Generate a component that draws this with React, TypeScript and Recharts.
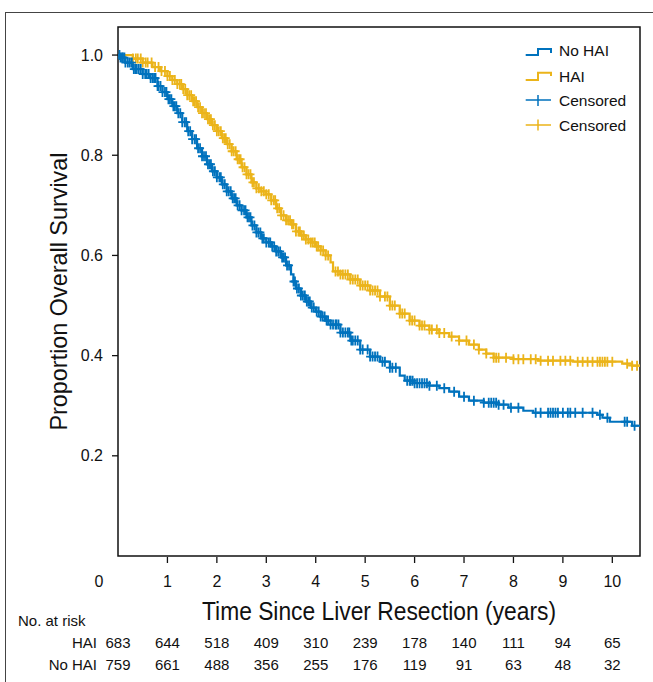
import React from "react"
import { ComposedChart, Line, Scatter, XAxis, YAxis, ReferenceArea } from "recharts"

const BLUE = "#0072BD"
const YELLOW = "#EBB41A"
const SANS = "'Liberation Sans', Arial, Helvetica, sans-serif"
const NARROW = "'Liberation Sans Narrow', 'Liberation Sans', Arial, sans-serif"

const TIME_TICKS = [0, 1, 2, 3, 4, 5, 6, 7, 8, 9, 10]
const SURV_TICKS = [0.2, 0.4, 0.6, 0.8, 1.0]
const AT_RISK_HAI = [683, 644, 518, 409, 310, 239, 178, 140, 111, 94, 65]
const AT_RISK_NO_HAI = [759, 661, 488, 356, 255, 176, 119, 91, 63, 48, 32]

// step points of the KM curves (years, proportion surviving)
const HAI_TIME = [0, 0.3, 0.5, 0.7, 0.85, 1.0, 1.1, 1.2, 1.3, 1.4, 1.5, 1.6, 1.7, 1.8, 1.9, 2.0, 2.1, 2.2, 2.3, 2.4, 2.5, 2.6, 2.7, 2.8, 2.9, 3.0, 3.1, 3.2, 3.3, 3.4, 3.5, 3.6, 3.7, 3.8, 3.9, 4.0, 4.1, 4.2, 4.3, 4.35, 4.5, 4.7, 4.9, 5.1, 5.3, 5.5, 5.7, 5.9, 6.1, 6.3, 6.5, 6.7, 6.9, 7.1, 7.3, 7.45, 7.6, 8.0, 8.5, 9.2, 10.2, 10.4, 10.56]
const HAI_SURV = [1.0, 0.993, 0.985, 0.976, 0.968, 0.958, 0.95, 0.942, 0.932, 0.92, 0.908, 0.896, 0.884, 0.872, 0.86, 0.848, 0.834, 0.822, 0.808, 0.792, 0.776, 0.762, 0.746, 0.734, 0.728, 0.722, 0.71, 0.694, 0.68, 0.67, 0.662, 0.648, 0.64, 0.632, 0.626, 0.618, 0.61, 0.6, 0.586, 0.568, 0.562, 0.552, 0.54, 0.53, 0.518, 0.5, 0.484, 0.47, 0.46, 0.452, 0.445, 0.438, 0.43, 0.422, 0.412, 0.404, 0.396, 0.393, 0.39, 0.388, 0.384, 0.38, 0.38]

const NO_HAI_TIME = [0, 0.05, 0.15, 0.3, 0.5, 0.65, 0.8, 0.9, 1.0, 1.1, 1.2, 1.3, 1.4, 1.5, 1.6, 1.7, 1.8, 1.9, 2.0, 2.1, 2.2, 2.3, 2.4, 2.5, 2.6, 2.7, 2.8, 2.9, 3.0, 3.1, 3.2, 3.3, 3.4, 3.5, 3.55, 3.6, 3.7, 3.8, 3.9, 4.0, 4.1, 4.2, 4.3, 4.5, 4.7, 4.9, 5.1, 5.3, 5.5, 5.7, 5.8, 6.0, 6.3, 6.5, 6.7, 6.9, 7.1, 7.4, 7.7, 7.9, 8.2, 8.4, 9.7, 9.8, 9.95, 10.4, 10.56]
const NO_HAI_SURV = [1.0, 0.995, 0.985, 0.972, 0.962, 0.954, 0.938, 0.926, 0.912, 0.898, 0.884, 0.866, 0.848, 0.832, 0.814, 0.798, 0.782, 0.768, 0.756, 0.742, 0.728, 0.714, 0.7, 0.69, 0.676, 0.66, 0.646, 0.634, 0.626, 0.618, 0.608, 0.596, 0.58, 0.562, 0.548, 0.534, 0.52, 0.508, 0.496, 0.488, 0.478, 0.47, 0.462, 0.446, 0.43, 0.412, 0.398, 0.388, 0.376, 0.36, 0.35, 0.345, 0.34, 0.335, 0.328, 0.318, 0.31, 0.306, 0.302, 0.296, 0.29, 0.286, 0.282, 0.276, 0.268, 0.26, 0.26]

// censoring times (years)
const HAI_CENSOR = [0.3, 0.36, 0.4, 0.46, 0.5, 0.56, 0.6, 0.68, 0.75, 0.82, 0.88, 0.95, 1.0, 1.05, 1.1, 1.15, 1.2, 1.25, 1.28, 1.32, 1.36, 1.4, 1.44, 1.48, 1.52, 1.55, 1.58, 1.62, 1.66, 1.7, 1.74, 1.78, 1.82, 1.85, 1.88, 1.92, 1.96, 2.0, 2.04, 2.08, 2.12, 2.15, 2.18, 2.22, 2.26, 2.3, 2.34, 2.38, 2.42, 2.45, 2.48, 2.52, 2.56, 2.6, 2.64, 2.68, 2.72, 2.75, 2.8, 2.85, 2.9, 2.95, 3.0, 3.05, 3.1, 3.15, 3.18, 3.22, 3.26, 3.3, 3.35, 3.4, 3.44, 3.48, 3.52, 3.55, 3.6, 3.65, 3.68, 3.72, 3.76, 3.8, 3.85, 3.9, 3.94, 3.98, 4.02, 4.05, 4.1, 4.15, 4.2, 4.25, 4.4, 4.45, 4.5, 4.55, 4.6, 4.65, 4.7, 4.75, 4.8, 4.85, 4.9, 4.95, 5.0, 5.05, 5.1, 5.15, 5.2, 5.25, 5.3, 5.4, 5.45, 5.5, 5.55, 5.6, 5.7, 5.75, 5.8, 5.9, 5.95, 6.0, 6.1, 6.15, 6.2, 6.3, 6.35, 6.45, 6.5, 6.6, 6.75, 6.9, 7.05, 7.2, 7.3, 7.45, 7.6, 7.65, 7.7, 7.85, 8.0, 8.1, 8.2, 8.35, 8.45, 8.55, 8.7, 8.8, 8.95, 9.05, 9.15, 9.3, 9.4, 9.5, 9.6, 9.7, 9.75, 9.8, 9.85, 9.9, 10.0, 10.3, 10.4, 10.5]
const NO_HAI_CENSOR = [0.03, 0.05, 0.08, 0.1, 0.13, 0.15, 0.2, 0.24, 0.28, 0.32, 0.35, 0.38, 0.42, 0.46, 0.5, 0.55, 0.58, 0.62, 0.66, 0.7, 0.73, 0.76, 0.8, 0.82, 0.86, 0.9, 0.95, 0.98, 1.02, 1.05, 1.08, 1.12, 1.15, 1.18, 1.22, 1.26, 1.3, 1.35, 1.38, 1.42, 1.46, 1.5, 1.55, 1.58, 1.62, 1.66, 1.7, 1.74, 1.78, 1.82, 1.85, 1.88, 1.92, 1.96, 2.0, 2.05, 2.08, 2.12, 2.16, 2.2, 2.24, 2.28, 2.32, 2.35, 2.38, 2.42, 2.46, 2.5, 2.55, 2.58, 2.62, 2.65, 2.68, 2.72, 2.76, 2.8, 2.84, 2.88, 2.92, 2.95, 3.0, 3.05, 3.08, 3.12, 3.16, 3.2, 3.24, 3.28, 3.32, 3.35, 3.38, 3.42, 3.46, 3.55, 3.58, 3.62, 3.66, 3.7, 3.74, 3.78, 3.82, 3.85, 3.88, 3.92, 3.96, 4.02, 4.06, 4.1, 4.14, 4.18, 4.22, 4.25, 4.3, 4.35, 4.4, 4.42, 4.46, 4.5, 4.55, 4.6, 4.65, 4.68, 4.72, 4.75, 4.8, 4.85, 4.9, 4.95, 5.05, 5.1, 5.15, 5.2, 5.25, 5.35, 5.4, 5.5, 5.55, 5.62, 5.85, 5.9, 5.92, 5.96, 6.0, 6.05, 6.1, 6.15, 6.2, 6.25, 6.3, 6.45, 6.6, 6.8, 7.0, 7.2, 7.4, 7.5, 7.55, 7.6, 7.65, 7.7, 7.8, 7.95, 8.1, 8.45, 8.55, 8.7, 8.75, 8.8, 8.85, 8.9, 9.0, 9.1, 9.15, 9.25, 9.4, 9.6, 9.75, 9.9, 10.25, 10.3, 10.45]

const X_MAX = 10.56
const Y_MAX = 1.056

function curve(times: number[], surv: number[]) {
  return times.map((t, i) => ({ t, s: surv[i] }))
}

// value of the step curve at time t
function stepAt(times: number[], surv: number[], t: number) {
  let s = surv[0]
  for (let i = 0; i < times.length; i++) {
    if (times[i] <= t) s = surv[i]
    else break
  }
  return s
}

function censorMarks(ts: number[], times: number[], surv: number[]) {
  return ts.map(t => ({ t, s: stepAt(times, surv, t) }))
}

const haiCurve = curve(HAI_TIME, HAI_SURV)
const noHaiCurve = curve(NO_HAI_TIME, NO_HAI_SURV)
const haiCensored = censorMarks(HAI_CENSOR, HAI_TIME, HAI_SURV)
const noHaiCensored = censorMarks(NO_HAI_CENSOR, NO_HAI_TIME, NO_HAI_SURV)

const plus = (color: string) => (props: any) => {
  const { cx, cy } = props
  if (cx == null || cy == null) return <g />
  return <path d={`M${cx - 4},${cy}H${cx + 4}M${cx},${cy - 5}V${cy + 5}`} stroke={color} strokeWidth={1.8} fill="none" />
}

function TimeTick(props: any) {
  const { x, y, payload } = props
  const v = payload.value
  const i = TIME_TICKS.indexOf(v)
  const txt = { fontFamily: SANS, fill: "#111" }
  return (
    <g>
      {v !== 0 && <line x1={x} x2={x} y1={y - 7} y2={y - 1} stroke="#111" strokeWidth={1.3} />}
      <text x={v === 0 ? x - 19 : x} y={y + 23} textAnchor="middle" fontSize={16} {...txt}>{v}</text>
      <text x={x} y={y + 84} textAnchor="middle" fontSize={15} {...txt}>{AT_RISK_HAI[i]}</text>
      <text x={x} y={y + 106} textAnchor="middle" fontSize={15} {...txt}>{AT_RISK_NO_HAI[i]}</text>
      {v === 0 && (
        <>
          <text x={x - 100} y={y + 62} fontSize={15} {...txt}>No. at risk</text>
          <text x={x - 21} y={y + 84} textAnchor="end" fontSize={15} {...txt}>HAI</text>
          <text x={x - 21} y={y + 106} textAnchor="end" fontSize={15} {...txt}>No HAI</text>
        </>
      )}
    </g>
  )
}

function XTitle(props: any) {
  const vb = props.viewBox || { x: 118, y: 556, width: 522 }
  return (
    <text x={vb.x + vb.width / 2} y={vb.y + 64} textAnchor="middle" fontSize={25}
      fontFamily={NARROW} fill="#111" textLength={354} lengthAdjust="spacingAndGlyphs">
      Time Since Liver Resection (years)
    </text>
  )
}

function YTitle(props: any) {
  const vb = props.viewBox || { x: 0, y: 27, height: 529 }
  const cx = 58
  const cy = vb.y + vb.height / 2
  return (
    <text x={cx} y={cy} transform={`rotate(-90 ${cx} ${cy})`} textAnchor="middle" dominantBaseline="central"
      fontSize={24} fontFamily={NARROW} fill="#111" textLength={278} lengthAdjust="spacingAndGlyphs">
      Proportion Overall Survival
    </text>
  )
}

function LegendBox() {
  const txt = { fontFamily: SANS, fontSize: 15.5, fill: "#111" }
  return (
    <svg width={130} height={100} style={{ position: "absolute", left: 520, top: 38 }}>
      <path d="M5.7,17H18V11H31V15" stroke={BLUE} strokeWidth={2} fill="none" />
      <text x={39} y={18} {...txt}>No HAI</text>
      <path d="M5.7,42H18V34.7H31V38" stroke={YELLOW} strokeWidth={2} fill="none" />
      <text x={39} y={43.5} {...txt}>HAI</text>
      <path d="M5.7,62H31M18,57V68" stroke={BLUE} strokeWidth={1.5} fill="none" />
      <text x={39} y={67.5} {...txt}>Censored</text>
      <path d="M5.7,87H31M18,81.5V92.5" stroke={YELLOW} strokeWidth={1.5} fill="none" />
      <text x={39} y={92.5} {...txt}>Censored</text>
    </svg>
  )
}

export default function App() {
  return (
    <div style={{ position: "absolute", left: 0, top: 0, width: 653, height: 682, overflow: "hidden", background: "#fff" }}>
      <div style={{ position: "absolute", left: 5, top: 12, width: 700, height: 700, borderLeft: "1.5px solid #444", borderTop: "1.5px solid #444" }} />
      <ComposedChart width={653} height={682} margin={{ top: 27, right: 13, left: 0, bottom: 0 }}>
        <XAxis dataKey="t" type="number" domain={[0, X_MAX]} ticks={TIME_TICKS} interval={0}
          allowDataOverflow height={126} axisLine={false} tickLine={false} tickSize={6} tickMargin={2}
          tick={<TimeTick />} label={<XTitle />} />
        <YAxis type="number" domain={[0, Y_MAX]} ticks={SURV_TICKS} interval={0} allowDataOverflow
          width={118} axisLine={false} tickSize={6} tickMargin={9}
          tickLine={{ stroke: "#111", strokeWidth: 1.3 }}
          tick={{ fontSize: 16, fontFamily: SANS, fill: "#111" }}
          tickFormatter={(v: number) => v.toFixed(1)} label={<YTitle />} />
        <Line data={haiCurve} dataKey="s" type="stepAfter" stroke={YELLOW} strokeWidth={2.2} dot={false} isAnimationActive={false} />
        <Scatter data={haiCensored} dataKey="s" shape={plus(YELLOW)} isAnimationActive={false} />
        <Line data={noHaiCurve} dataKey="s" type="stepAfter" stroke={BLUE} strokeWidth={2.2} dot={false} isAnimationActive={false} />
        <Scatter data={noHaiCensored} dataKey="s" shape={plus(BLUE)} isAnimationActive={false} />
        <ReferenceArea x1={0} x2={X_MAX} y1={0} y2={Y_MAX} fill="none" stroke="#111" strokeWidth={1.5} ifOverflow="visible" />
      </ComposedChart>
      <LegendBox />
    </div>
  )
}
